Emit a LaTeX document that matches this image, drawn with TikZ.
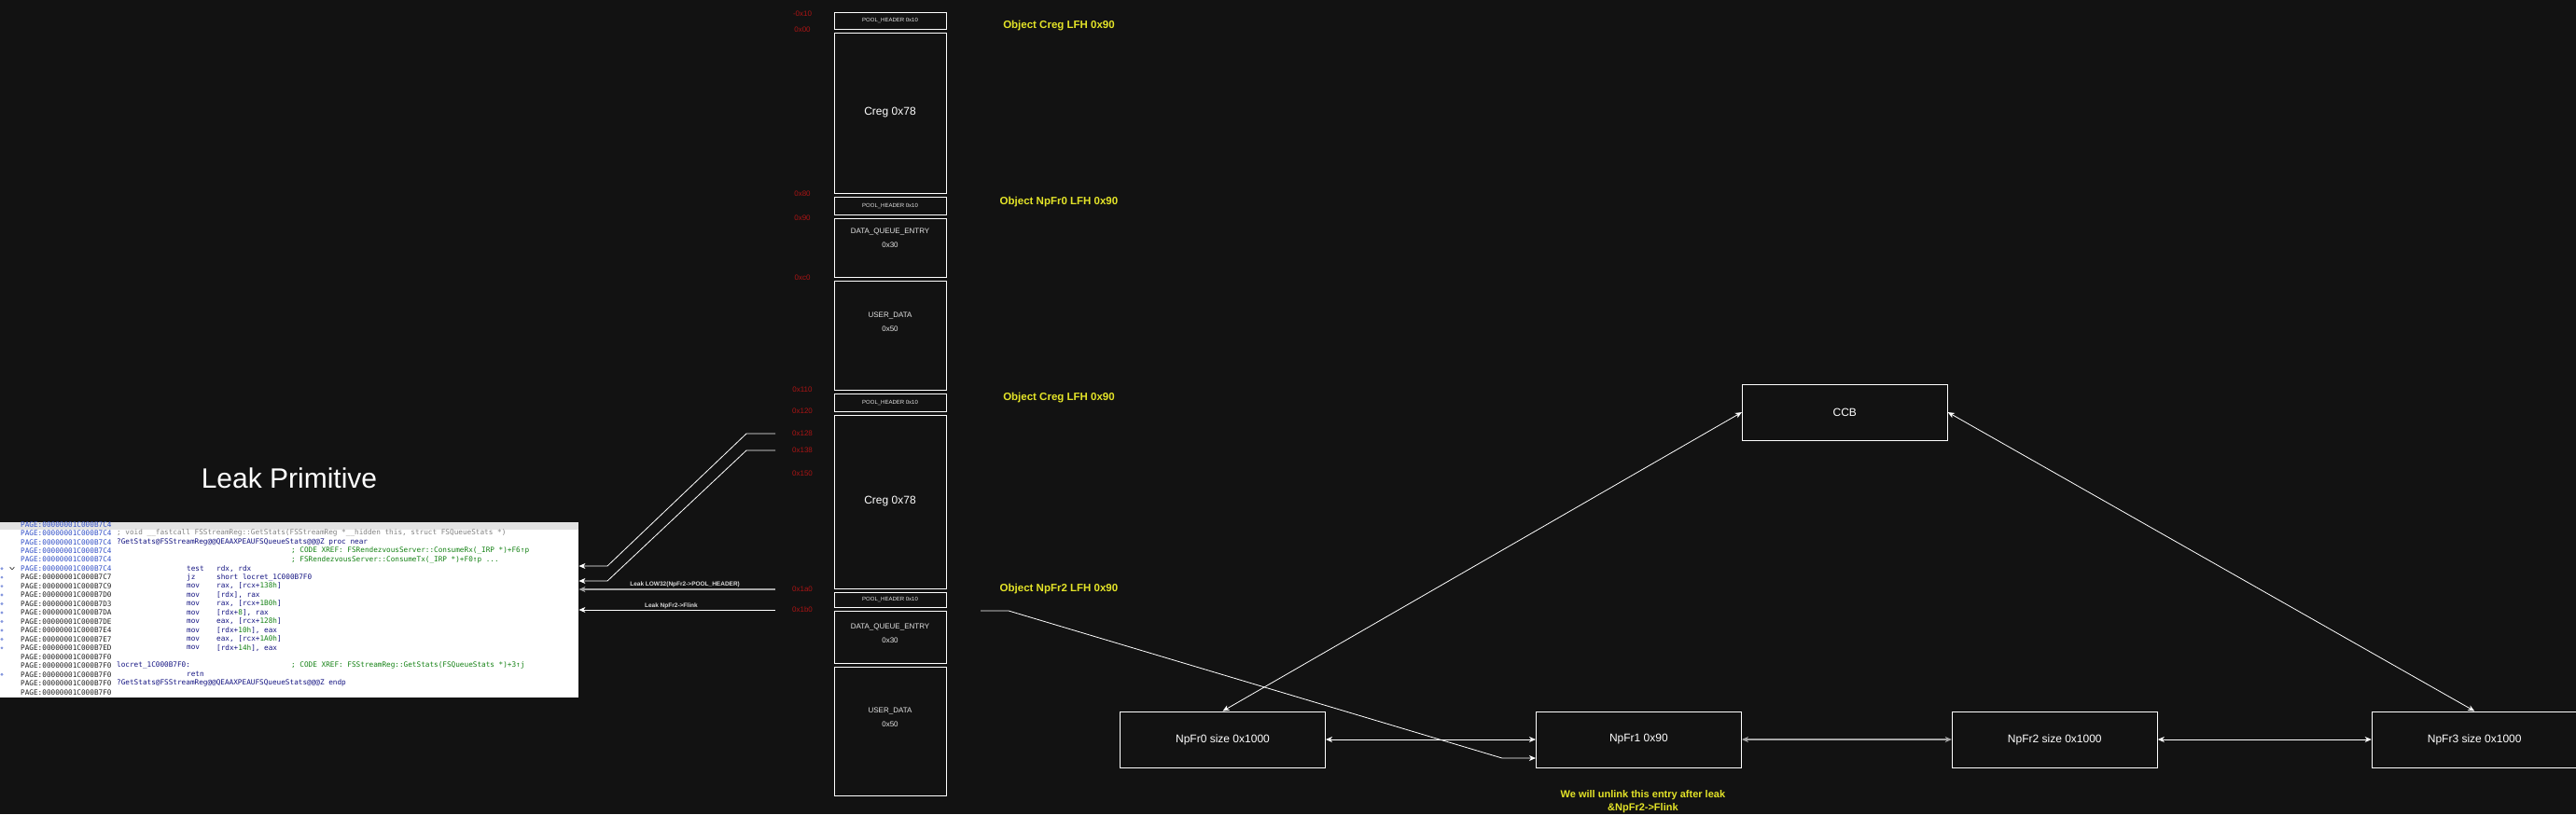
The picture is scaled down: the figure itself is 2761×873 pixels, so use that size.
\documentclass[tikz,border=0pt]{standalone}
\usepackage{fontspec}
\setmainfont{Liberation Sans}
\newfontfamily\idafont{DejaVu Sans Mono}
\usetikzlibrary{arrows.meta,positioning}

\definecolor{bgdark}{RGB}{18,18,18}
\definecolor{offred}{RGB}{170,20,20}
\definecolor{lfhyellow}{RGB}{228,228,40}
\definecolor{idablue}{RGB}{50,80,200}
\definecolor{idanavy}{RGB}{20,20,130}
\definecolor{idagreen}{RGB}{20,130,20}
\definecolor{idagrey}{RGB}{130,130,130}
\definecolor{idatext}{RGB}{35,35,35}
\definecolor{idabar}{RGB}{226,226,226}
\definecolor{linkgrey}{RGB}{165,165,165}

\newcommand{\setsize}[2]{\fontsize{#1}{#2}\selectfont}
\newcommand{\asmline}[4]{\node[asm, text=#3] (ida-#1-#2) at (#2,{562.3+(#1-1)*9.47}) {#4};}

\begin{document}
\begin{tikzpicture}[x=1pt, y=-1pt,
  memblk/.style={draw=white, line width=0.9pt, minimum width=120pt, inner sep=0pt, text=white!90!black},
  hdrblk/.style={memblk, minimum height=#1, font=\setsize{6}{7}},
  blktxt/.style={text=white!90!black, font=\setsize{8}{15}, align=center, inner sep=0pt},
  offlbl/.style={text=offred, font=\setsize{8}{9}, inner sep=0pt},
  lfh/.style={text=lfhyellow, font=\bfseries\setsize{11.5}{14}},
  chunk/.style={draw=white, line width=0.9pt, minimum width=220pt, minimum height=60pt, inner sep=0pt, text=white, font=\setsize{12}{14}},
  codebox/.style={fill=white, inner sep=0pt},
  asm/.style={anchor=west, inner sep=0pt, font=\idafont\setsize{7.7}{9}},
  link/.style={draw=white, line width=0.8pt, {Stealth[length=7pt,width=6pt,inset=2pt]}-{Stealth[length=7pt,width=6pt,inset=2pt]}},
  leak/.style={draw=white, line width=0.8pt, -{Stealth[length=7pt,width=6pt,inset=2pt]}},
  leaklbl/.style={text=white!85!black, font=\bfseries\setsize{6.5}{8}, inner sep=1pt}]
\useasboundingbox (0,0) rectangle (2761,873);
\fill[bgdark] (0,0) rectangle (2761,873);

% pool layout
\node[hdrblk=18pt] (ph0) at (954,22) {POOL\_HEADER 0x10};
\node[memblk, minimum height=172pt, font=\setsize{12}{14}, text=white] (creg0) at (954,121) {Creg 0x78};
\node[hdrblk=19pt] (ph1) at (954,220.5) {POOL\_HEADER 0x10};
\node[memblk, minimum height=63pt] (dqe0) at (954,265.5) {};
\node[memblk, minimum height=117pt] (ud0) at (954,359.5) {};
\node[hdrblk=19pt] (ph2) at (954,431.5) {POOL\_HEADER 0x10};
\node[memblk, minimum height=186pt, font=\setsize{12}{14}, text=white] (creg1) at (954,538) {Creg 0x78};
\node[hdrblk=16pt] (ph3) at (954,643) {POOL\_HEADER 0x10};
\node[memblk, minimum height=56pt] (dqe1) at (954,683) {};
\node[memblk, minimum height=138pt] (ud1) at (954,784) {};
\node[blktxt] (dqe0t) at (954,255.5) {DATA\_QUEUE\_ENTRY\\0x30};
\node[blktxt] (ud0t) at (954,345.5) {USER\_DATA\\0x50};
\node[blktxt] (dqe1t) at (954,679.5) {DATA\_QUEUE\_ENTRY\\0x30};
\node[blktxt] (ud1t) at (954,769.5) {USER\_DATA\\0x50};

\foreach \ofs/\yy in {-0x10/15, 0x00/32, 0x80/208, 0x90/234, 0xc0/298, 0x110/418, 0x120/441, 0x128/465, 0x138/483, 0x150/508, 0x1a0/632, 0x1b0/654}
  \node[offlbl] (off\yy) at (860,\yy) {\ofs};

\node[lfh] (lfh0) at (1135,28) {Object Creg LFH 0x90};
\node[lfh] (lfh1) at (1135,217) {Object NpFr0 LFH 0x90};
\node[lfh] (lfh2) at (1135,427) {Object Creg LFH 0x90};
\node[lfh] (lfh3) at (1135,632) {Object NpFr2 LFH 0x90};

% leak primitive
\node[text=white, font=\setsize{30}{34}] (title) at (310,513) {Leak Primitive};
\node[codebox, anchor=north west, minimum width=620pt, minimum height=188.5pt] (code) at (0,559.5) {};
\fill[idabar] (code.north west) rectangle ([yshift=-8.5pt]code.north east);
\foreach \i in {6,7,8,9,10,11,12,13,14,15,18}
  \fill[idablue!60] (2,{562.3+(\i-1)*9.47}) circle (1.6pt);
\draw[idatext, line width=0.6pt] (10.5,608) -- (13,610.8) -- (15.5,608);
\foreach \i/\a/\c in {1/C4/idablue, 2/C4/idablue, 3/C4/idablue, 4/C4/idablue, 5/C4/idablue, 6/C4/idablue, 7/C7/idatext, 8/C9/idatext, 9/D0/idatext, 10/D3/idatext, 11/DA/idatext, 12/DE/idatext, 13/E4/idatext, 14/E7/idatext, 15/ED/idatext, 16/F0/idatext, 17/F0/idatext, 18/F0/idatext, 19/F0/idatext, 20/F0/idatext}
  {\asmline{\i}{22}{\c}{PAGE:00000001C000B7\a}}
\asmline{2}{125}{idagrey}{; void \_\_fastcall FSStreamReg::GetStats(FSStreamReg *\_\_hidden this, struct FSQueueStats *)}
\asmline{3}{125}{idanavy}{?GetStats@FSStreamReg@@QEAAXPEAUFSQueueStats@@@Z proc near}
\asmline{4}{312}{idagreen}{; CODE XREF: FSRendezvousServer::ConsumeRx(\_IRP *)+F6↑p}
\asmline{5}{312}{idagreen}{; FSRendezvousServer::ConsumeTx(\_IRP *)+F0↑p ...}
\asmline{6}{200}{idanavy}{test}
\asmline{6}{232}{idanavy}{rdx, rdx}
\asmline{7}{200}{idanavy}{jz}
\asmline{7}{232}{idanavy}{short locret\_1C000B7F0}
\asmline{8}{200}{idanavy}{mov}
\asmline{8}{232}{idanavy}{rax, [rcx+\textcolor{idagreen}{138h}]}
\asmline{9}{200}{idanavy}{mov}
\asmline{9}{232}{idanavy}{[rdx], rax}
\asmline{10}{200}{idanavy}{mov}
\asmline{10}{232}{idanavy}{rax, [rcx+\textcolor{idagreen}{1B0h}]}
\asmline{11}{200}{idanavy}{mov}
\asmline{11}{232}{idanavy}{[rdx+\textcolor{idagreen}{8}], rax}
\asmline{12}{200}{idanavy}{mov}
\asmline{12}{232}{idanavy}{eax, [rcx+\textcolor{idagreen}{128h}]}
\asmline{13}{200}{idanavy}{mov}
\asmline{13}{232}{idanavy}{[rdx+\textcolor{idagreen}{10h}], eax}
\asmline{14}{200}{idanavy}{mov}
\asmline{14}{232}{idanavy}{eax, [rcx+\textcolor{idagreen}{1A0h}]}
\asmline{15}{200}{idanavy}{mov}
\asmline{15}{232}{idanavy}{[rdx+\textcolor{idagreen}{14h}], eax}
\asmline{17}{125}{idanavy}{locret\_1C000B7F0:}
\asmline{17}{312}{idagreen}{; CODE XREF: FSStreamReg::GetStats(FSQueueStats *)+3↑j}
\asmline{18}{200}{idanavy}{retn}
\asmline{19}{125}{idanavy}{?GetStats@FSStreamReg@@QEAAXPEAUFSQueueStats@@@Z endp}

\coordinate (s128) at (831,465);
\coordinate (s138) at (831,483);
\coordinate (s1a0) at (831,632);
\coordinate (s1b0) at (831,654);
\coordinate (b128) at (651,607);
\coordinate (b138) at (651,623);
\draw[leak] (s128) -- ++(-31,0) -- (b128) -- (code.east |- b128);
\draw[leak] (s138) -- ++(-31,0) -- (b138) -- (code.east |- b138);
\draw[leak, draw=linkgrey, line width=1.3pt] (s1a0) -- node[leaklbl, above=1pt, pos=0.46] (lbl1a0) {Leak LOW32(NpFr2->POOL\_HEADER)} (code.east |- s1a0);
\draw[leak] (s1b0) -- node[leaklbl, above=0pt, pos=0.53] (lbl1b0) {Leak NpFr2->Flink} (code.east |- s1b0);

% free list
\node[chunk] (npfr0) at (1310.5,793) {NpFr0 size 0x1000};
\node[chunk, right=225pt of npfr0] (npfr1) {NpFr1 0x90};
\node[chunk, right=225pt of npfr1] (npfr2) {NpFr2 size 0x1000};
\node[chunk, right=229pt of npfr2] (npfr3) {NpFr3 size 0x1000};
\node[chunk, above right=290pt and 0pt of npfr1] (ccb) {CCB};
\node[lfh, font=\bfseries\setsize{11}{14.3}, align=center, inner sep=0pt, below=24pt of npfr1, xshift=4.5pt] (note) {We will unlink this entry after leak\\\&NpFr2->Flink};

\draw[link] (ccb.west) -- (npfr0.north);
\draw[link] (ccb.east) -- (npfr3.north);
\draw[link] (npfr0.east) -- (npfr1.west);
\draw[link, draw=linkgrey, line width=1.4pt] (npfr1.east) -- (npfr2.west);
\draw[link] (npfr2.east) -- (npfr3.west);

\coordinate (sflink) at (1051,655);
\draw[leak] (sflink) -- ++(30,0) -- ([shift={(-36pt,-20pt)}]npfr1.west) -- ([yshift=-20pt]npfr1.west);
\end{tikzpicture}
\end{document}
